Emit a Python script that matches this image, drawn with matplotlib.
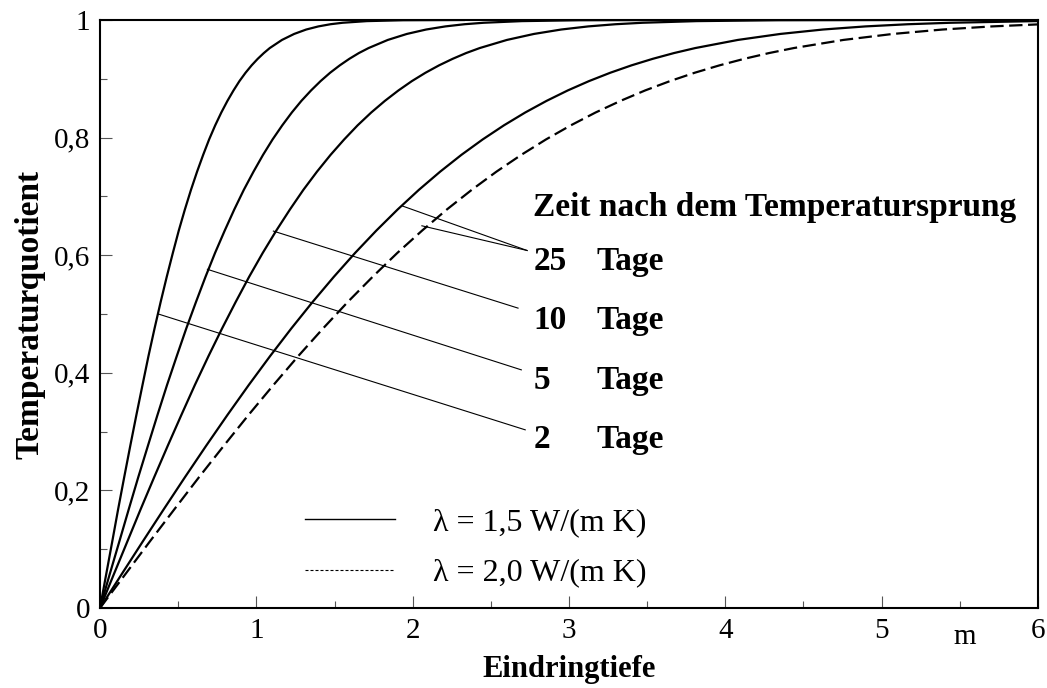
import matplotlib.pyplot as plt
from matplotlib.lines import Line2D
from matplotlib.ticker import MultipleLocator

plt.rcParams['font.family'] = ['Liberation Serif', 'DejaVu Serif']

# Temperaturquotient (gemeinsame Stufen fuer alle Kurven)
quotient = [0, 0.0564, 0.1125, 0.168, 0.2227, 0.2763, 0.3286, 0.3794, 0.4284,
            0.4755, 0.5205, 0.5633, 0.6039, 0.642, 0.6778, 0.7112, 0.7421,
            0.7707, 0.7969, 0.8209, 0.8427, 0.8624, 0.8802, 0.8961, 0.9103,
            0.9229, 0.934, 0.9438, 0.9523, 0.9661, 0.9763, 0.9838, 0.9891,
            0.9928, 0.9953, 0.9981, 0.9996, 1.0]

# Eindringtiefe in m, bei der jede Kurve diesen Quotienten erreicht
tiefe_2d = [0, 0.039, 0.078, 0.116, 0.155, 0.194, 0.233, 0.272, 0.310, 0.349,
            0.388, 0.427, 0.466, 0.504, 0.543, 0.582, 0.621, 0.660, 0.698,
            0.737, 0.776, 0.815, 0.854, 0.892, 0.931, 0.970, 1.009, 1.048,
            1.086, 1.164, 1.242, 1.319, 1.397, 1.474, 1.552, 1.707, 1.940,
            2.328]
tiefe_5d = [0, 0.061, 0.123, 0.184, 0.245, 0.307, 0.368, 0.429, 0.491, 0.552,
            0.614, 0.675, 0.736, 0.798, 0.859, 0.920, 0.982, 1.043, 1.104,
            1.166, 1.227, 1.288, 1.350, 1.411, 1.472, 1.534, 1.595, 1.656,
            1.718, 1.841, 1.963, 2.086, 2.209, 2.331, 2.454, 2.699, 3.068,
            3.681]
tiefe_10d = [0, 0.087, 0.174, 0.260, 0.347, 0.434, 0.521, 0.607, 0.694,
             0.781, 0.868, 0.954, 1.041, 1.128, 1.215, 1.301, 1.388, 1.475,
             1.562, 1.648, 1.735, 1.822, 1.909, 1.995, 2.082, 2.169, 2.256,
             2.342, 2.429, 2.603, 2.776, 2.950, 3.123, 3.297, 3.470, 3.817,
             4.338, 5.205]
tiefe_25d = [0, 0.136, 0.272, 0.408, 0.544, 0.680, 0.816, 0.952, 1.088,
             1.224, 1.360, 1.496, 1.632, 1.768, 1.904, 2.040, 2.176, 2.312,
             2.448, 2.584, 2.720, 2.856, 2.992, 3.128, 3.264, 3.400, 3.536,
             3.672, 3.808, 4.080, 4.352, 4.624, 4.896, 5.168, 5.440, 5.984,
             6.800, 8.160]
# lambda = 2,0 W/(m K), 25 Tage
tiefe_25d_l2 = [0, 0.159, 0.317, 0.476, 0.634, 0.793, 0.951, 1.110, 1.268,
                1.427, 1.585, 1.744, 1.902, 2.061, 2.219, 2.378, 2.536, 2.695,
                2.853, 3.012, 3.170, 3.329, 3.487, 3.646, 3.804, 3.963, 4.121,
                4.280, 4.438, 4.755, 5.072, 5.389, 5.706, 6.023, 6.340, 6.974,
                7.925, 9.510]

# Beschriftung der Kurven
tage = ['25', '10', '5', '2']
tage_y = [0.575, 0.474, 0.373, 0.272]
hinweis_start = [[(1.931, 0.684), (2.059, 0.650)],
                 [(1.109, 0.641)],
                 [(0.687, 0.576)],
                 [(0.373, 0.500)]]
hinweis_ende = [(2.732, 0.608), (2.674, 0.510), (2.695, 0.405), (2.72, 0.303)]

legende = ['λ = 1,5 W/(m K)', 'λ = 2,0 W/(m K)']

fig = plt.figure(figsize=(10.47, 6.88), dpi=100)
ax = fig.add_axes([100 / 1047, 80 / 688, 938 / 1047, 588 / 688])

for xs in [tiefe_2d, tiefe_5d, tiefe_10d, tiefe_25d]:
    ax.plot(xs, quotient, color='black', lw=1.6)
ax.plot(tiefe_25d_l2, quotient, color='black', lw=1.6, dashes=(6, 2.5))

# Hinweislinien
for starts, ende in zip(hinweis_start, hinweis_ende):
    for s in starts:
        ax.plot([s[0], ende[0]], [s[1], ende[1]], color='black', lw=0.8)

ax.text(2.772, 0.666, 'Zeit nach dem Temperatursprung', fontsize=24,
        fontweight='bold', va='baseline', ha='left')
for t, ty in zip(tage, tage_y):
    ax.text(2.772, ty, t, fontsize=24, fontweight='bold', va='baseline')
    ax.text(3.175, ty, 'Tage', fontsize=24, fontweight='bold', va='baseline')

ax.text(5.53, -0.062, 'm', fontsize=21, ha='center', va='baseline')

griffe = [Line2D([], [], color='black', lw=1.0),
          Line2D([], [], color='black', lw=0.8, linestyle=(0, (2.7, 1.8)))]
ax.legend(griffe, legende, loc='upper left', bbox_to_anchor=(0.2186, 0.170),
          frameon=False, fontsize=23, handlelength=2.82, handletextpad=1.19,
          labelspacing=0.655, borderpad=0, borderaxespad=0)

ax.set_xlim(0, 6)
ax.set_ylim(0, 1)
ax.set_xticks([0, 1, 2, 3, 4, 5, 6])
ax.set_xticklabels(['0', '1', '2', '3', '4', '5', '6'])
ax.set_yticks([0, 0.2, 0.4, 0.6, 0.8, 1.0])
ax.set_yticklabels(['0', '0,2', '0,4', '0,6', '0,8', '1'])
ax.xaxis.set_minor_locator(MultipleLocator(0.5))
ax.yaxis.set_minor_locator(MultipleLocator(0.1))
ax.tick_params(which='both', direction='in', top=False, right=False,
               labelsize=21, width=0.8, color='#555555')
ax.tick_params(which='major', length=8.6)
ax.tick_params(which='minor', length=5)
ax.tick_params(axis='x', pad=7)
ax.tick_params(axis='y', pad=7)
for sp in ax.spines.values():
    sp.set_linewidth(1.5)

ax.set_xlabel('Eindringtiefe', fontsize=22, fontweight='bold', labelpad=7.8)
ax.set_ylabel('Temperaturquotient', fontsize=24, fontweight='bold', labelpad=6)

fig.savefig('out.png', dpi=100)
